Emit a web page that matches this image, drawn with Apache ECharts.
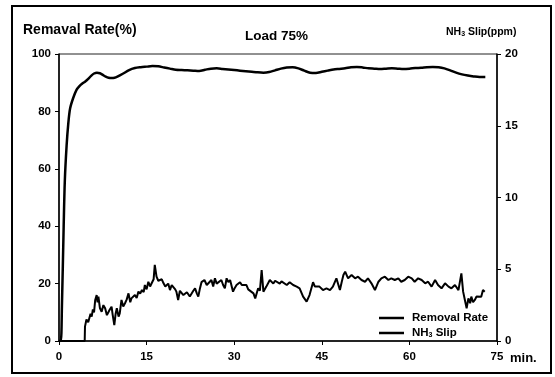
<!DOCTYPE html>
<html>
<head>
<meta charset="utf-8">
<script src="https://cdn.jsdelivr.net/npm/echarts@6/dist/echarts.min.js"></script>
<style>
  html, body { margin: 0; padding: 0; background: #fff; }
  #main { width: 555px; height: 377px; }
</style>
</head>
<body>
<div id="main"></div>
<script>
// removal rate (%) vs time (min)
const rateTime = [0, 0.3, 0.5, 0.8, 1.0, 1.3, 1.6, 1.9, 2.4, 3.0, 3.5, 4.0, 4.5, 5.0, 5.5, 6.0, 6.5, 7.0, 7.5, 8.0, 8.5, 9.0, 9.5, 10, 11, 12, 13, 14, 15, 16, 17, 18, 19, 20, 21, 22, 23, 24, 25, 26, 27, 28, 29, 30,
  31, 32, 33, 34, 35, 36, 37, 38, 39, 40, 41, 42, 43, 44, 45, 46, 47, 48, 49, 50, 51, 52, 53, 54, 55, 56, 57, 58, 59, 60,
  61, 62, 63, 64, 65, 66, 67, 68, 69, 70, 71, 72, 73];
const rateVal = [0, 0, 12, 40, 56, 68, 76, 81, 84.5, 87.5, 88.8, 89.7, 90.4, 91.3, 92.4, 93.2, 93.5, 93.3, 92.7, 92.1, 91.7, 91.6, 91.7, 92.1, 93.2, 94.4, 95.1, 95.4, 95.6, 95.8, 95.7, 95.3, 94.9, 94.5, 94.4, 94.3, 94.2, 94.1, 94.5, 94.9, 95.0, 94.8, 94.6, 94.4,
  94.2, 94.0, 93.8, 93.6, 93.5, 93.7, 94.3, 94.9, 95.3, 95.4, 95.0, 94.2, 93.5, 93.4, 93.8, 94.2, 94.6, 94.8, 95.0, 95.4, 95.5, 95.3, 95.0, 94.9, 94.8, 94.9, 95.0, 94.9, 94.8, 94.9,
  95.1, 95.2, 95.4, 95.5, 95.4, 95.0, 94.3, 93.5, 92.9, 92.5, 92.2, 92.0, 92.0];

// NH3 slip (ppm) vs time (min)
const slipTime = [0, 4.4, 4.45, 4.7, 5.0, 5.2, 5.4, 5.6, 5.8, 6.0, 6.2, 6.45, 6.6, 6.75, 7.0, 7.3, 7.6, 7.9, 8.2, 8.45, 8.7, 9.0, 9.2, 9.47, 9.7, 9.9, 10.2, 10.4, 10.7, 11.0, 11.3, 11.6, 11.9, 12.2, 12.4, 12.7, 13.0, 13.3, 13.6, 13.9, 14.2, 14.5, 14.7, 15.0, 15.3, 15.6, 15.9, 16.2, 16.4, 16.7, 17.0, 17.3, 17.6, 17.9, 18.2, 18.4, 18.7, 19.0, 19.3, 19.6, 19.9, 20.1, 20.4, 20.7, 21.0, 21.3, 21.6, 21.9, 22.1, 22.4, 22.7, 23.0, 23.3, 23.6, 23.85, 24.1, 24.4, 24.9, 25.3, 25.6, 26.1, 26.4, 26.7, 27.0, 27.3, 27.8, 28.1, 28.4, 28.7, 29.0, 29.3, 29.8, 30.1, 30.4, 31.0, 31.3, 31.6, 32.1, 32.4, 32.7, 33.3, 33.6, 34.1, 34.4, 34.7, 35.0, 35.5, 35.8, 36.1, 36.7, 37.0, 37.3, 37.8, 38.1, 38.4, 39.0, 39.5, 40.1, 40.4, 40.7, 41.2, 41.8, 42.4, 42.9, 43.5, 43.8, 44.1, 44.6, 45.2, 45.8, 46.4, 46.9, 47.5, 48.1, 48.4, 48.7, 49.0, 49.5, 50.1, 50.7, 51.2, 51.8, 52.4, 52.9, 53.5, 54.1, 54.7, 55.2, 55.8, 56.4, 56.9, 57.5, 58.1, 58.6, 59.2, 59.8, 60.4, 60.9, 61.5, 62.1, 62.7, 63.2, 63.8, 64.4, 64.9, 65.5, 66.1, 66.7, 67.2, 67.8, 68.4, 68.9, 69.2, 69.5, 69.8, 70.1, 70.4, 70.6, 70.9, 71.2, 71.5, 71.8, 72.3, 72.6, 72.9];
const slipVal = [0, 0, 1.0, 1.5, 1.3, 1.6, 1.9, 1.7, 2.2, 2.0, 2.86, 3.2, 2.7, 3.1, 2.3, 2.04, 2.5, 2.28, 1.8, 1.7, 2.2, 2.39, 1.8, 1.1, 1.9, 2.28, 1.7, 1.93, 2.86, 2.4, 2.63, 2.9, 3.32, 2.7, 2.97, 3.1, 3.21, 3.0, 3.44, 3.3, 3.55, 3.4, 3.9, 3.6, 4.13, 3.8, 3.67, 4.3, 5.3, 4.48, 4.2, 4.13, 4.3, 4.02, 3.8, 3.9, 4.0, 3.55, 3.9, 3.79, 3.6, 3.44, 2.86, 3.5, 3.55, 3.2, 3.09, 3.4, 3.44, 3.1, 3.09, 3.5, 3.67, 3.32, 3.09, 3.6, 4.1, 4.25, 3.9, 4.0, 4.25, 3.8, 4.37, 4.0, 4.1, 4.25, 3.9, 3.67, 4.37, 4.1, 4.25, 3.44, 3.7, 3.9, 4.1, 3.9, 3.79, 3.9, 3.6, 3.67, 3.32, 2.97, 3.67, 3.5, 4.95, 3.44, 3.79, 3.9, 4.25, 4.0, 4.2, 4.25, 4.0, 4.15, 4.1, 3.9, 4.1, 3.9, 4.0, 3.79, 3.67, 3.09, 2.74, 3.2, 4.1, 3.8, 3.9, 3.79, 3.55, 3.67, 3.55, 3.79, 4.37, 3.55, 4.1, 4.6, 4.83, 4.37, 4.6, 4.37, 4.48, 4.25, 4.13, 4.37, 4.02, 3.55, 4.13, 4.37, 4.48, 4.25, 4.37, 4.25, 4.37, 4.13, 4.25, 4.48, 4.37, 4.13, 4.37, 4.25, 4.02, 4.13, 3.79, 4.25, 3.9, 3.67, 4.02, 3.79, 3.67, 3.9, 3.55, 4.71, 3.44, 2.86, 2.28, 2.97, 2.63, 3.09, 2.7, 2.86, 3.1, 2.97, 3.09, 3.55, 3.44];

const xTicks = [0, 15, 30, 45, 60, 75];

const rateData = rateTime.map((t, i) => [t, rateVal[i]]);
const slipData = slipTime.map((t, i) => [t, slipVal[i]]);

const chart = echarts.init(document.getElementById('main'));
const font = 'Liberation Sans, Arial, sans-serif';
const labelStyle = { color: '#000', fontFamily: font, fontWeight: 'bold', fontSize: 11.5 };
const subRich = { s: { fontSize: 7, fontWeight: 'bold', fontFamily: font, verticalAlign: 'bottom', padding: [5, 0, 0, 0] } };

const option = {
  animation: false,
  backgroundColor: '#fff',
  textStyle: { fontFamily: font },
  title: [
    { text: 'Remaval Rate(%)', left: 23, top: 23, padding: 0,
      textStyle: { color: '#000', fontFamily: font, fontWeight: 'bold', fontSize: 14 } },
    { text: 'Load 75%', left: 245, top: 29, padding: 0,
      textStyle: { color: '#000', fontFamily: font, fontWeight: 'bold', fontSize: 13.5 } },
    { text: 'NH{s|3} Slip(ppm)', left: 446, top: 26, padding: 0,
      textStyle: { color: '#000', fontFamily: font, fontWeight: 'bold', fontSize: 10.5, rich: subRich } }
  ],
  graphic: [{
    type: 'rect',
    shape: { x: 12, y: 6, width: 539, height: 367 },
    style: { fill: 'none', stroke: '#000', lineWidth: 2 },
    silent: true
  }],
  legend: {
    orient: 'vertical',
    left: 374, top: 307,
    itemWidth: 25, itemHeight: 2.5,
    itemGap: 3,
    icon: 'rect',
    textStyle: {
      color: '#000', fontFamily: font, fontWeight: 'bold', fontSize: 11.5, padding: [0, 0, 0, 3],
      rich: subRich
    },
    formatter: name => name === 'NH3 Slip' ? 'NH{s|3} Slip' : name,
    data: ['Removal Rate', 'NH3 Slip']
  },
  grid: {
    left: 59, right: 58, top: 54, bottom: 36,
    show: true, borderColor: '#222', borderWidth: 1
  },
  xAxis: {
    type: 'value', min: 0, max: 75, interval: 15,
    name: 'min.', nameLocation: 'end', nameGap: 13,
    nameTextStyle: { color: '#000', fontFamily: font, fontWeight: 'bold', fontSize: 13, verticalAlign: 'top', padding: [11, 0, 0, 0] },
    axisLine: { lineStyle: { color: '#000', width: 1.5 } },
    axisTick: { length: 4, lineStyle: { color: '#000' } },
    axisLabel: Object.assign({ margin: 10, customValues: xTicks }, labelStyle),
    splitLine: { show: false }
  },
  yAxis: [{
    type: 'value', min: 0, max: 100, interval: 20,
    axisLine: { show: true, lineStyle: { color: '#000', width: 1.5 } },
    axisTick: { show: true, length: 4, lineStyle: { color: '#000' } },
    axisLabel: Object.assign({ margin: 8 }, labelStyle),
    splitLine: { show: false }
  }, {
    type: 'value', min: 0, max: 20, interval: 5,
    position: 'right',
    axisLine: { show: true, lineStyle: { color: '#000', width: 1.5 } },
    axisTick: { show: true, length: 4, lineStyle: { color: '#000' } },
    axisLabel: Object.assign({ margin: 8 }, labelStyle),
    splitLine: { show: false }
  }],
  series: [{
    name: 'Removal Rate',
    type: 'line',
    yAxisIndex: 0,
    data: rateData,
    smooth: 0.3,
    showSymbol: false,
    color: '#000',
    lineStyle: { color: '#000', width: 2.5 }
  }, {
    name: 'NH3 Slip',
    type: 'line',
    yAxisIndex: 1,
    data: slipData,
    showSymbol: false,
    color: '#000',
    lineStyle: { color: '#000', width: 2 }
  }]
};

chart.setOption(option);
</script>
</body>
</html>
